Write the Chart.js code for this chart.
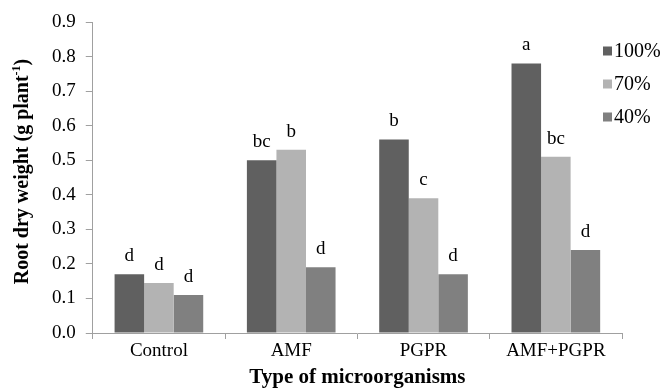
<!DOCTYPE html>
<html>
<head>
<meta charset="utf-8">
<script src="https://cdn.jsdelivr.net/npm/chart.js@4"></script>
<style>
    html, body { margin: 0; padding: 0; background: #fff; }
    #wrap { width: 667px; height: 388px; }
</style>
</head>
<body>
<div id="wrap"><canvas id="rootChart" width="667" height="388"></canvas></div>
<script>
// Dữ liệu
const categories = ['Control', 'AMF', 'PGPR', 'AMF+PGPR'];
const seriesNames = ['100%', '70%', '40%'];
const values100 = [0.17, 0.50, 0.56, 0.78];
const values70 = [0.145, 0.53, 0.39, 0.51];
const values40 = [0.11, 0.19, 0.17, 0.24];
const letters100 = ['d', 'bc', 'b', 'a'];
const letters70 = ['d', 'b', 'c', 'bc'];
const letters40 = ['d', 'd', 'd', 'd'];
const seriesColors = ['#606060', '#b3b3b3', '#808080'];

const serif = "'Liberation Serif', 'Times New Roman', serif";

// Chữ cái thống kê trên đầu cột
const letterPlugin = {
    id: 'letters',
    afterDatasetsDraw(chart) {
        const ctx = chart.ctx;
        const allLetters = [letters100, letters70, letters40];
        ctx.save();
        ctx.font = '19px ' + serif;
        ctx.fillStyle = '#000';
        ctx.textAlign = 'center';
        ctx.textBaseline = 'alphabetic';
        chart.data.datasets.forEach((ds, i) => {
            chart.getDatasetMeta(i).data.forEach((bar, j) => {
                ctx.fillText(allLetters[i][j], bar.x, bar.y - 13);
            });
        });
        ctx.restore();
    }
};

// Tiêu đề trục Y có chỉ số trên
const yTitlePlugin = {
    id: 'yTitle',
    afterDraw(chart) {
        const ctx = chart.ctx;
        const area = chart.chartArea;
        const main = 'bold 20px ' + serif;
        const sup = 'bold 12px ' + serif;
        const parts = [['Root dry weight (g plant', main, 0], ['-1', sup, -8], [')', main, 0]];
        ctx.save();
        let total = 0;
        parts.forEach(p => { ctx.font = p[1]; total += ctx.measureText(p[0]).width; });
        ctx.translate(0, (area.top + area.bottom) / 2 - 6);
        ctx.rotate(-Math.PI / 2);
        ctx.fillStyle = '#000';
        ctx.textBaseline = 'alphabetic';
        let x = -total / 2;
        parts.forEach(p => {
            ctx.font = p[1];
            ctx.fillText(p[0], x, 28 + p[2]);
            x += ctx.measureText(p[0]).width;
        });
        ctx.restore();
    }
};

// Chú thích vẽ tay, nằm đè lên góc phải vùng biểu đồ
const legendPlugin = {
    id: 'sideLegend',
    afterDraw(chart) {
        const ctx = chart.ctx;
        ctx.save();
        ctx.font = '20px ' + serif;
        ctx.textBaseline = 'middle';
        seriesNames.forEach((name, i) => {
            const y = 51 + i * 33;
            ctx.fillStyle = seriesColors[i];
            ctx.fillRect(603, y - 4.5, 9, 9);
            ctx.fillStyle = '#000';
            ctx.fillText(name, 614, y + 1);
        });
        ctx.restore();
    }
};

const ctx = document.getElementById('rootChart').getContext('2d');
new Chart(ctx, {
    type: 'bar',
    data: {
        labels: categories,
        datasets: [
            { label: seriesNames[0], data: values100, backgroundColor: seriesColors[0] },
            { label: seriesNames[1], data: values70, backgroundColor: seriesColors[1] },
            { label: seriesNames[2], data: values40, backgroundColor: seriesColors[2] }
        ]
    },
    options: {
        responsive: false,
        animation: false,
        devicePixelRatio: 1,
        layout: { padding: { left: 42, right: 45, top: 22, bottom: 0 } },
        datasets: {
            bar: { categoryPercentage: 0.67, barPercentage: 1.0 }
        },
        plugins: {
            legend: { display: false },
            tooltip: { enabled: false }
        },
        scales: {
            x: {
                grid: { display: true, drawOnChartArea: false, drawTicks: true, tickLength: 6, color: '#a0a0a0', offset: true },
                border: { color: '#a0a0a0' },
                ticks: { color: '#000', font: { family: serif, size: 19, lineHeight: 1.0 }, padding: 3 },
                title: {
                    display: true,
                    text: 'Type of microorganisms',
                    color: '#000',
                    font: { family: serif, size: 21, weight: 'bold', lineHeight: 1.0 },
                    padding: { top: 3, bottom: 0 }
                }
            },
            y: {
                min: 0,
                max: 0.9,
                grid: { display: true, drawOnChartArea: false, drawTicks: true, tickLength: 7, color: '#a0a0a0' },
                border: { color: '#a0a0a0' },
                ticks: {
                    stepSize: 0.1,
                    color: '#000',
                    padding: 10,
                    font: { family: serif, size: 19 },
                    callback: v => v.toFixed(1)
                }
            }
        }
    },
    plugins: [letterPlugin, yTitlePlugin, legendPlugin]
});
</script>
</body>
</html>
